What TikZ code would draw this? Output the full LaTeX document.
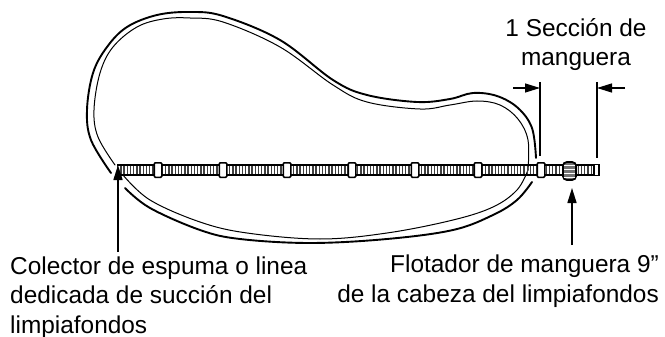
\documentclass[tikz,border=0pt]{standalone}
\usepackage{fontspec}
\setmainfont{Liberation Sans}
\usetikzlibrary{arrows.meta}
\usetikzlibrary{positioning}
\tikzstyle{every node}+=[inner sep=0pt]
\tikzstyle{label text} = [font=\fontsize{24.4}{29.5}\selectfont, align=left]
\tikzstyle{line} = [draw, line width=1.6pt, -{Triangle[length=15pt, width=9pt]}]
\tikzstyle{dim} = [draw, line width=1.3pt]
\tikzstyle{outer wall} = [draw, line width=1.9pt, line cap=round]
\tikzstyle{inner wall} = [draw, line width=1pt, line cap=round]
\tikzstyle{ribs} = [draw, line width=9pt, dash pattern=on 1.3pt off 1.9pt, black!75]
\tikzstyle{rail} = [draw, line width=1.7pt]
\tikzstyle{collar} = [rectangle, draw, line width=1.5pt, fill=white, minimum width=7.5pt, minimum height=14.5pt, rounded corners=1pt]
\tikzstyle{float} = [rectangle, draw, line width=1.8pt, fill=black!55, minimum width=13.2pt, minimum height=18pt, rounded corners=4pt]
\tikzstyle{tip} = [rectangle, draw, line width=1.5pt, fill=white, minimum width=5pt, minimum height=11pt]
\begin{document}
\begin{tikzpicture}[x=1pt, y=-1pt]
    \useasboundingbox (0,0) rectangle (665,337);
    % Pool walls
    \draw [outer wall] plot [smooth, tension=0.6] coordinates {(125,188) (150,208) (200,230) (240,239) (310,243) (387,239) (453,230) (493,215) (517,200) (532,182)};
    \draw [outer wall] plot [smooth, tension=0.6] coordinates {(536,158) (532,128) (518,108) (497,96) (473,93) (450,99) (417,102) (367,95) (333,80) (280,40) (223,16) (190,12) (157,15) (127,27) (107,47) (93,73) (87,110) (91,140) (111,173)};
    \draw [inner wall] plot [smooth, tension=0.6] coordinates {(123,175) (150,200) (200,222) (247,233) (320,239) (387,233) (453,220) (493,207) (517,190) (528,170)};
    \draw [inner wall] plot [smooth, tension=0.6] coordinates {(528,170) (528,140) (518,119) (500,105) (477,101) (450,105) (420,109) (367,102) (333,85) (280,47) (223,22) (190,18) (163,19) (137,27) (113,47) (100,73) (94,110) (98,137) (115,165)};
    % Place nodes
    \coordinate (hose start) at (117,170);
    \coordinate (hose end) at (594,170);
    \draw [ribs] (hose start) -- (hose end);
    \draw [rail] (117,165) -- (594,165);
    \draw [rail] (117,175) -- (594,175);
    \foreach \x [count=\i] in {158,223,287,352,415,478,541} {
        \node [collar] (c\i) at (\x,170) {};
    }
    \node [tip] (end) at (596.5,170) {};
    \node [float] (flt) at (569.5,171) {};
    \foreach \y in {165,169,173,177} {
        \draw [white, line width=1pt] (564,\y) -- (575,\y);
    }
    \node [label text, anchor=base west] (lbl left) at (10,333) {Colector de espuma o linea\\dedicada de succión del\\limpiafondos};
    \node [label text, align=right, anchor=base east] (lbl right) at (659,302) {Flotador de manguera 9”\\de la cabeza del limpiafondos};
    \node [label text, align=center, anchor=base] (lbl top) at (576,66) {1 Sección de\\manguera};
    \coordinate (left foot) at (118,252);
    \coordinate (left head) at (118,165);
    \coordinate (flt foot) at (572,245);
    \coordinate (flt head) at (572,188);
    % Draw edges
    \path [line] (left foot) -- (left head);
    \path [line] (flt foot) -- (flt head);
    \coordinate (dim left a) at (540,82);
    \coordinate (dim left b) at (540,156);
    \coordinate (dim right a) at (597,82);
    \coordinate (dim right b) at (597,158);
    \path [dim] (dim left a) -- (dim left b);
    \path [dim] (dim right a) -- (dim right b);
    \coordinate (in left) at (513,88);
    \coordinate (in right) at (625,88);
    \path [line, line width=1.3pt] (in left) -- (dim left a |- in left);
    \path [line, line width=1.3pt] (in right) -- (dim right a |- in right);
\end{tikzpicture}
\end{document}
